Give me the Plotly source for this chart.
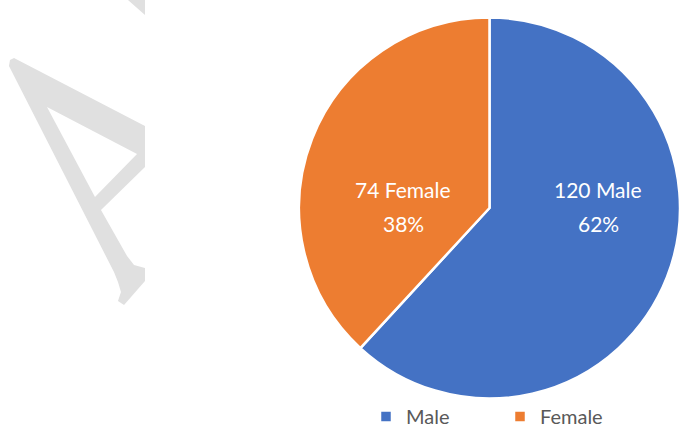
import plotly.graph_objects as go

labels = ["Male", "Female"]
values = [120, 74]
colors = ["#4472C4", "#ED7D31"]

W, H = 680, 430

def P(pts):
    return "M " + " L ".join(f"{x / W:.4f},{1 - y / H:.4f}" for x, y in pts) + " Z"

outer = [(10, 60), (14, 58), (145, 126), (145, 167), (101, 210), (127, 256),
         (134, 265), (145, 268), (145, 281), (124, 305), (118, 301), (121, 292),
         (118, 282), (114, 272), (9, 66)]
hole = [(47, 107), (137, 154), (95, 197)]
top = [(128, 0), (145, 0), (145, 15)]

shapes = [
    dict(type="path", xref="paper", yref="paper", path=P(outer) + " " + P(hole),
         fillcolor="#E0E0E0", line=dict(width=0), layer="below", fillrule="evenodd"),
    dict(type="path", xref="paper", yref="paper", path=P(top),
         fillcolor="#E0E0E0", line=dict(width=0), layer="below"),
]

total = sum(values)
label_pos = [(598, 189, 223), (403, 189, 223)]
annotations = []
for (l, v), (px, y1, y2) in zip(zip(labels, values), label_pos):
    for txt, py in ((f"{v} {l}", y1), (f"{round(100 * v / total)}%", y2)):
        annotations.append(dict(text=txt, x=px / W, y=1 - py / H, xref="paper", yref="paper",
                                showarrow=False, xanchor="center", yanchor="middle",
                                font=dict(family="Lato", size=21, color="white")))

fig = go.Figure(go.Pie(
    labels=labels, values=values, sort=False, direction="clockwise", rotation=0,
    marker=dict(colors=colors, line=dict(color="white", width=2.5)),
    textinfo="none",
    domain=dict(x=[299 / W, 1.0], y=[1 - 399 / H, 1 - 17 / H]),
    hoverinfo="label+value+percent",
))

fig.update_layout(
    width=W, height=H, margin=dict(l=0, r=0, t=0, b=0, autoexpand=False),
    paper_bgcolor="white", plot_bgcolor="white",
    shapes=shapes, annotations=annotations,
    showlegend=True,
    legend=dict(orientation="h", x=366 / W, xanchor="left", y=-0.014, yanchor="bottom",
                bgcolor="rgba(0,0,0,0)",
                font=dict(family="Lato", size=20, color="#595959"),
                entrywidth=89, entrywidthmode="pixels", itemwidth=30),
)

fig.write_html("out.html")
